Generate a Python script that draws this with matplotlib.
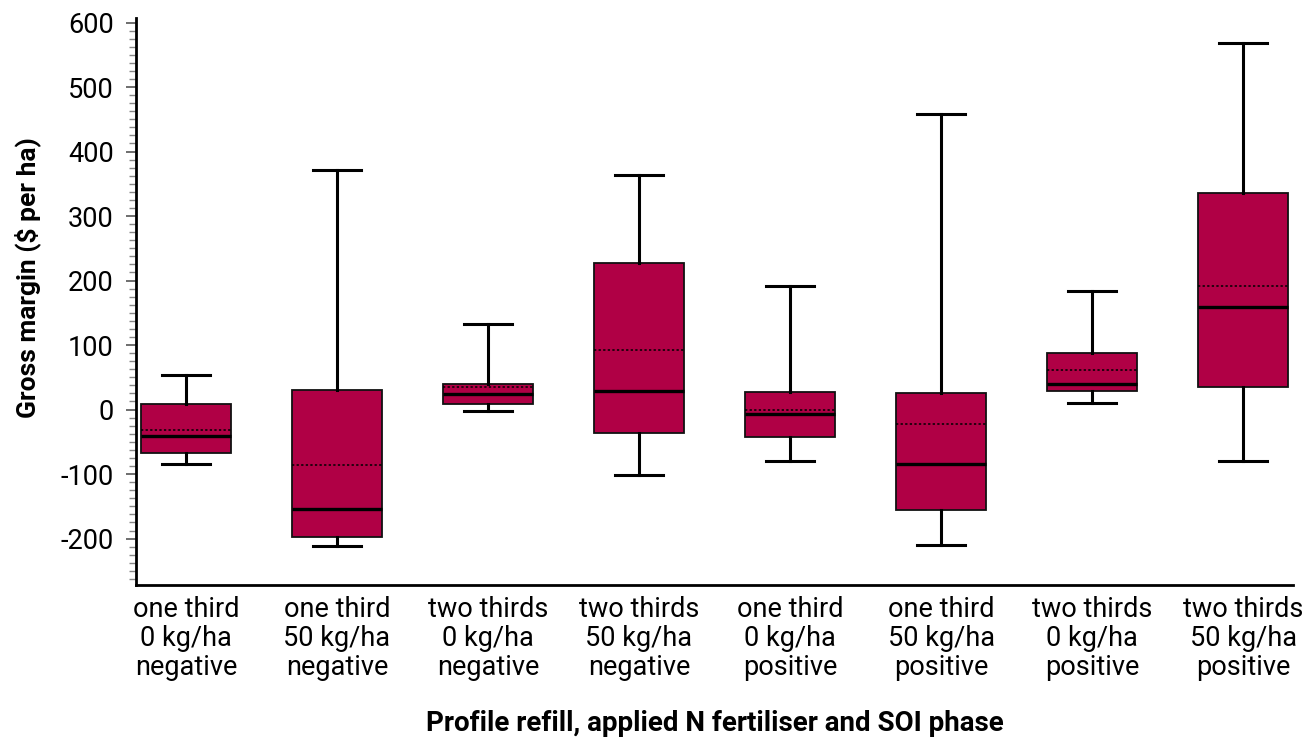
import matplotlib
matplotlib.use("Agg")
import matplotlib.pyplot as plt
from matplotlib.ticker import MultipleLocator

categories = [
    "one third\n0 kg/ha\nnegative",
    "one third\n50 kg/ha\nnegative",
    "two thirds\n0 kg/ha\nnegative",
    "two thirds\n50 kg/ha\nnegative",
    "one third\n0 kg/ha\npositive",
    "one third\n50 kg/ha\npositive",
    "two thirds\n0 kg/ha\npositive",
    "two thirds\n50 kg/ha\npositive",
]
whisker_low = [-84, -211, -3, -101, -80, -210, 10, -80]
q1 = [-68, -197, 8, -37, -43, -156, 28, 35]
median = [-41, -154, 24, 29, -7, -84, 39, 159]
mean = [-31, -86, 35, 92, 0, -23, 61, 192]
q3 = [8, 31, 39, 227, 27, 25, 88, 335]
whisker_high = [53, 371, 133, 364, 192, 458, 184, 568]

FONT = "Roboto"
plt.rcParams["font.family"] = [FONT, "DejaVu Sans"]
plt.rcParams["axes.unicode_minus"] = False

fig = plt.figure(figsize=(13.09, 7.38), dpi=100)
ax = fig.add_axes([0.1039, 0.2073, 0.8839, 0.7683])

stats = []
for i in range(len(categories)):
    stats.append(dict(med=median[i], q1=q1[i], q3=q3[i], whislo=whisker_low[i],
                      whishi=whisker_high[i], mean=mean[i], fliers=[]))

ax.bxp(stats, positions=range(1, len(categories) + 1), widths=0.6,
       patch_artist=True, showmeans=True, meanline=True, showfliers=False,
       boxprops=dict(facecolor="#B00045", edgecolor="#111111", linewidth=1.3),
       whiskerprops=dict(color="black", linewidth=2.2),
       capprops=dict(color="black", linewidth=2.2),
       capwidths=0.32,
       medianprops=dict(color="black", linewidth=2.4),
       meanprops=dict(color="black", linewidth=1.1, linestyle=(0, (1.5, 1.5))))

ax.set_xlim(0.67, 8.33)
ax.set_ylim(-272, 607)
ax.yaxis.set_major_locator(MultipleLocator(100))
ax.yaxis.set_minor_locator(MultipleLocator(12.5))
ax.set_xticks(range(1, len(categories) + 1))
ax.set_xticklabels(categories, fontsize=19.5, linespacing=1.1)
ax.tick_params(axis="x", length=0, pad=8)
ax.tick_params(axis="y", which="major", length=7, width=1.2, color="#555555", labelsize=19.5, pad=9)
ax.tick_params(axis="y", which="minor", length=5, width=1.0, color="#888888")

for s in ["top", "right"]:
    ax.spines[s].set_visible(False)
for s in ["left", "bottom"]:
    ax.spines[s].set_linewidth(2)

ax.set_ylabel("Gross margin ($ per ha)", fontsize=19, fontweight="bold")
ax.yaxis.set_label_coords(-0.082, 0.543)
ax.set_xlabel("Profile refill, applied N fertiliser and SOI phase", fontsize=20,
              fontweight="bold", labelpad=21)

fig.savefig("out.png", dpi=100)
